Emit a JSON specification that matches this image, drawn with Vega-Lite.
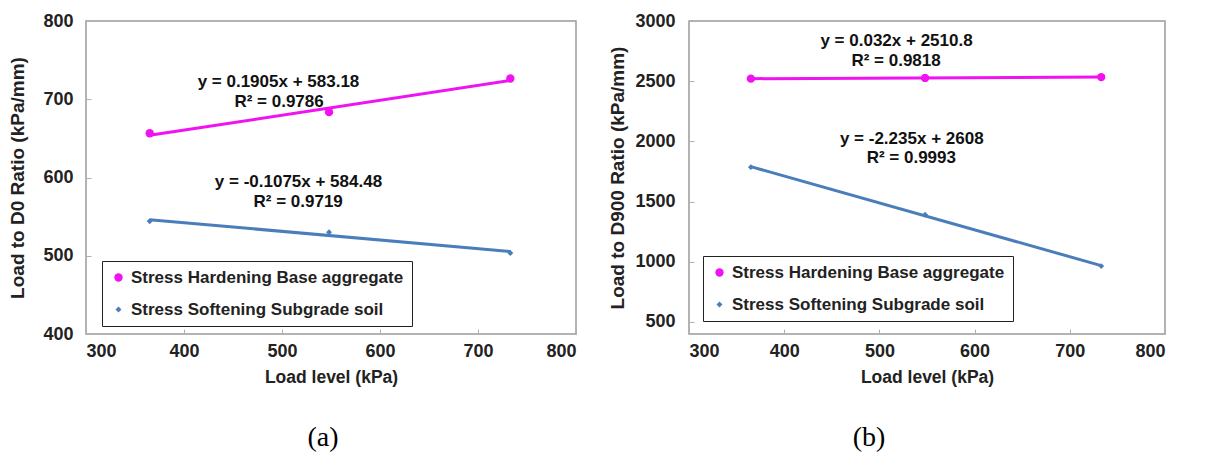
{
  "$schema": "https://vega.github.io/schema/vega-lite/v6.json",
  "background": "white",
  "padding": {"left": 8, "top": 11, "right": 2, "bottom": 2},
  "datasets": {
    "a": [
      {"load": 365, "ratio": 656.5, "series": "Stress Hardening Base aggregate"},
      {"load": 548, "ratio": 683.5, "series": "Stress Hardening Base aggregate"},
      {"load": 733, "ratio": 726.5, "series": "Stress Hardening Base aggregate"},
      {"load": 365, "ratio": 544, "series": "Stress Softening Subgrade soil"},
      {"load": 548, "ratio": 530, "series": "Stress Softening Subgrade soil"},
      {"load": 733, "ratio": 503.5, "series": "Stress Softening Subgrade soil"}
    ],
    "b": [
      {"load": 365, "ratio": 2521, "series": "Stress Hardening Base aggregate"},
      {"load": 548, "ratio": 2527, "series": "Stress Hardening Base aggregate"},
      {"load": 733, "ratio": 2534, "series": "Stress Hardening Base aggregate"},
      {"load": 365, "ratio": 1786, "series": "Stress Softening Subgrade soil"},
      {"load": 548, "ratio": 1390, "series": "Stress Softening Subgrade soil"},
      {"load": 733, "ratio": 964, "series": "Stress Softening Subgrade soil"}
    ],
    "eqa": [
      {"x": 496.4, "y": 722.5, "label": "y = 0.1905x + 583.18"},
      {"x": 497, "y": 696.5, "label": "R² = 0.9786"},
      {"x": 516.8, "y": 594.5, "label": "y = -0.1075x + 584.48"},
      {"x": 516.5, "y": 568.5, "label": "R² = 0.9719"}
    ],
    "eqb": [
      {"x": 518, "y": 2831, "label": "y = 0.032x + 2510.8"},
      {"x": 517.5, "y": 2668, "label": "R² = 0.9818"},
      {"x": 534, "y": 2021, "label": "y = -2.235x + 2608"},
      {"x": 533.5, "y": 1858, "label": "R² = 0.9993"}
    ]
  },
  "hconcat": [
    {
      "width": 490,
      "height": 313,
      "title": {"text": "(a)", "orient": "bottom", "frame": "group", "anchor": "middle", "offset": 38, "dx": -8},
      "layer": [
        {
          "data": {"name": "a"},
          "transform": [{"regression": "ratio", "on": "load", "groupby": ["series"], "method": "linear"}],
          "mark": {"type": "line", "strokeWidth": 3},
          "encoding": {
            "x": {"field": "load", "type": "quantitative", "scale": {"domain": [300, 800]}, "axis": {"values": [300, 400, 500, 600, 700, 800], "title": "Load level (kPa)"}},
            "y": {"field": "ratio", "type": "quantitative", "scale": {"domain": [400, 800]}, "axis": {"values": [400, 500, 600, 700, 800], "title": "Load to D0 Ratio (kPa/mm)", "labelPadding": 18, "titlePadding": 15}},
            "color": {"field": "series", "type": "nominal", "scale": {"domain": ["Stress Hardening Base aggregate", "Stress Softening Subgrade soil"], "range": ["#F012F0", "#4A7EBB"]}}
          }
        },
        {
          "data": {"name": "a"},
          "mark": {"type": "point", "filled": true, "opacity": 1},
          "encoding": {
            "x": {"field": "load", "type": "quantitative"},
            "y": {"field": "ratio", "type": "quantitative"},
            "color": {"field": "series", "type": "nominal", "legend": {"legendX": 16, "legendY": 240}},
            "shape": {"field": "series", "type": "nominal", "scale": {"domain": ["Stress Hardening Base aggregate", "Stress Softening Subgrade soil"], "range": ["circle", "diamond"]}, "legend": {"legendX": 16, "legendY": 240}},
            "size": {"field": "series", "type": "nominal", "scale": {"domain": ["Stress Hardening Base aggregate", "Stress Softening Subgrade soil"], "range": [70, 35]}, "legend": null}
          }
        },
        {
          "data": {"name": "eqa"},
          "mark": {"type": "text", "fontSize": 17, "fontWeight": "bold", "font": "Liberation Sans", "baseline": "middle", "align": "center", "color": "#111"},
          "encoding": {
            "x": {"field": "x", "type": "quantitative"},
            "y": {"field": "y", "type": "quantitative"},
            "text": {"field": "label"}
          }
        }
      ]
    },
    {
      "width": 476,
      "height": 313,
      "title": {"text": "(b)", "orient": "bottom", "frame": "group", "anchor": "middle", "offset": 38, "dx": -58},
      "layer": [
        {
          "data": {"name": "b"},
          "transform": [{"regression": "ratio", "on": "load", "groupby": ["series"], "method": "linear"}],
          "mark": {"type": "line", "strokeWidth": 3},
          "encoding": {
            "x": {"field": "load", "type": "quantitative", "scale": {"domain": [300, 800]}, "axis": {"values": [300, 400, 500, 600, 700, 800], "title": "Load level (kPa)"}},
            "y": {"field": "ratio", "type": "quantitative", "scale": {"domain": [500, 3000]}, "axis": {"values": [500, 1000, 1500, 2000, 2500, 3000], "format": "d", "title": "Load to D900 Ratio (kPa/mm)", "labelPadding": 19, "titlePadding": 7}},
            "color": {"field": "series", "type": "nominal", "scale": {"domain": ["Stress Hardening Base aggregate", "Stress Softening Subgrade soil"], "range": ["#F012F0", "#4A7EBB"]}}
          }
        },
        {
          "data": {"name": "b"},
          "mark": {"type": "point", "filled": true, "opacity": 1},
          "encoding": {
            "x": {"field": "load", "type": "quantitative"},
            "y": {"field": "ratio", "type": "quantitative"},
            "color": {"field": "series", "type": "nominal", "legend": {"legendX": 14, "legendY": 235}},
            "shape": {"field": "series", "type": "nominal", "scale": {"domain": ["Stress Hardening Base aggregate", "Stress Softening Subgrade soil"], "range": ["circle", "diamond"]}, "legend": {"legendX": 14, "legendY": 235}},
            "size": {"field": "series", "type": "nominal", "scale": {"domain": ["Stress Hardening Base aggregate", "Stress Softening Subgrade soil"], "range": [70, 35]}, "legend": null}
          }
        },
        {
          "data": {"name": "eqb"},
          "mark": {"type": "text", "fontSize": 17, "fontWeight": "bold", "font": "Liberation Sans", "baseline": "middle", "align": "center", "color": "#111"},
          "encoding": {
            "x": {"field": "x", "type": "quantitative"},
            "y": {"field": "y", "type": "quantitative"},
            "text": {"field": "label"}
          }
        }
      ]
    }
  ],
  "spacing": 30,
  "resolve": {"legend": {"color": "independent", "shape": "independent"}, "scale": {"y": "independent", "color": "independent", "shape": "independent", "size": "independent"}},
  "config": {
    "view": {"stroke": "#9A9A9A", "strokeWidth": 1.5},
    "font": "Liberation Sans",
    "axis": {
      "domain": false,
      "grid": false,
      "ticks": true,
      "tickSize": -5,
      "tickColor": "#B0B0B0",
      "labelFont": "Liberation Sans",
      "labelFontSize": 18,
      "labelFontWeight": "bold",
      "labelColor": "#222",
      "titleFont": "Liberation Sans",
      "titleFontWeight": "bold",
      "titleColor": "#222"
    },
    "axisX": {"labelPadding": 13, "titlePadding": 8, "titleFontSize": 17.5},
    "axisY": {"titleFontSize": 19},
    "legend": {
      "orient": "none",
      "title": null,
      "strokeColor": "#222",
      "fillColor": "white",
      "padding": 8,
      "rowPadding": 14,
      "labelFont": "Liberation Sans",
      "labelFontSize": 17,
      "labelFontWeight": "bold",
      "labelColor": "#222",
      "symbolSize": 55,
      "symbolStrokeWidth": 0,
      "labelOffset": 4,
      "labelLimit": 400
    },
    "title": {"font": "Liberation Serif", "fontSize": 28, "fontWeight": "normal", "color": "black"}
  }
}
